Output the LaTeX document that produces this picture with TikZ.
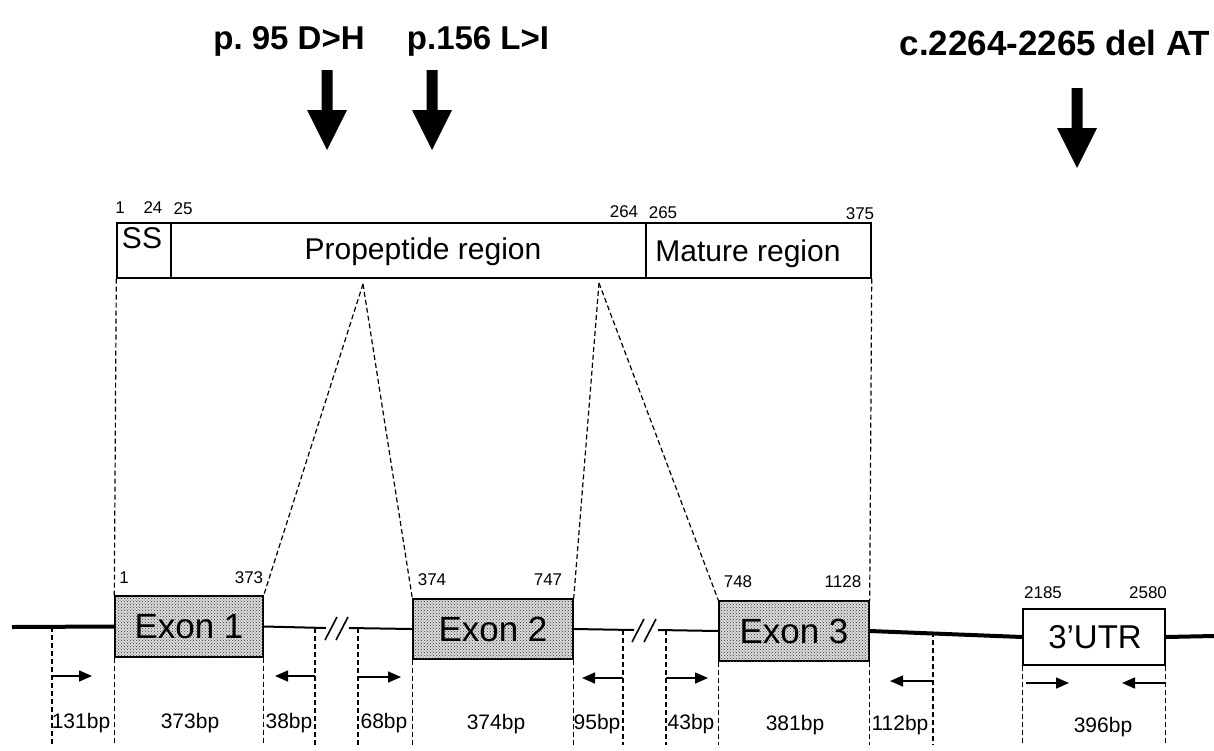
\documentclass[tikz,border=0pt]{standalone}
\usepackage{fontspec}
\setmainfont{Liberation Sans}
\usetikzlibrary{arrows.meta,patterns}
\frenchspacing
\begin{document}
\begin{tikzpicture}[x=1pt,y=-1pt,
  boxline/.style={draw, line width=1.4pt, inner sep=0pt},
  exonbox/.style={boxline, fill=black!14, postaction={pattern=crosshatch dots, pattern color=black!80},
     font=\fontsize{35}{35}\selectfont},
  biglabel/.style={font=\fontsize{30}{30}\selectfont, inner sep=0pt, anchor=base},
  numlabel/.style={font=\fontsize{17}{17}\selectfont, inner sep=0pt},
  bplabel/.style={font=\fontsize{21}{21}\selectfont, inner sep=0pt},
  titlelabel/.style={font=\bfseries\fontsize{33}{33}\selectfont, inner sep=0pt, anchor=base},
  thickline/.style={line width=4pt},
  thinline/.style={line width=2pt},
  dashline/.style={line width=1.2pt, dash pattern=on 5pt off 3pt},
  primer/.style={line width=1.6pt, -{Triangle[length=13pt,width=11pt]}},
  bigarrow/.pic={\fill (-5.5,0) -- (5.5,0) -- (5.5,40) -- (20,40) -- (0,80) -- (-20,40) -- (-5.5,40) -- cycle;}
]
\useasboundingbox (0,0) rectangle (1214,750);

% titles and mutation arrows
\node[titlelabel] (t1) at (289,49) {p. 95 D>H};
\node[titlelabel] (t2) at (478,49) {p.156 L>I};
\node[titlelabel, font=\bfseries\fontsize{35}{35}\selectfont] (t3) at (1055,55) {c.2264-2265 del AT};
\pic at (327,70) {bigarrow};
\pic at (432,70) {bigarrow};
\pic at (1077,88) {bigarrow};

% protein bar
\node[boxline, minimum width=54pt, minimum height=55pt] (ss) at (144,250.5) {};
\node[boxline, minimum width=475pt, minimum height=55pt] (pro) at (408.5,250.5) {};
\node[boxline, minimum width=225pt, minimum height=55pt] (mat) at (758.5,250.5) {};
\node[biglabel] (sst) at (142,248) {SS};
\node[biglabel] (prot) at (423,259) {Propeptide region};
\node[biglabel] (matt) at (748,261) {Mature region};
\node[numlabel] (n1) at (120,208) {1};
\node[numlabel] (n24) at (153,208) {24};
\node[numlabel] (n25) at (183,209) {25};
\node[numlabel] (n264) at (624,212) {264};
\node[numlabel] (n265) at (663,213) {265};
\node[numlabel] (n375) at (860,214) {375};

% gene
\node[exonbox, minimum width=148pt, minimum height=61pt] (ex1) at (189,626.5) {Exon 1};
\node[exonbox, minimum width=160pt, minimum height=60pt] (ex2) at (493,629) {Exon 2};
\node[exonbox, minimum width=150pt, minimum height=60pt] (ex3) at (794,631) {Exon 3};
\node[boxline, minimum width=142pt, minimum height=56pt] (utr) at (1094,637) {};
\node[font=\fontsize{33}{33}\selectfont, inner sep=0pt] (utrt) at (1095,637) {3’UTR};

\node[numlabel] (e1a) at (124,578) {1};
\node[numlabel] (e1b) at (249,578) {373};
\node[numlabel] (e2a) at (432,580) {374};
\node[numlabel] (e2b) at (548,580) {747};
\node[numlabel] (e3a) at (738,582) {748};
\node[numlabel] (e3b) at (843,582) {1128};
\node[numlabel] (ua) at (1043,593) {2185};
\node[numlabel] (ub) at (1148,593) {2580};

\coordinate (lstart) at (12,627);
\coordinate (lend) at (1214,636);
\coordinate (b1a) at (326,628);
\coordinate (b1b) at (349,628);
\coordinate (b2a) at (634,630);
\coordinate (b2b) at (658,630);

\draw[thickline] (lstart) -- (ex1.west);
\draw[thinline] (ex1.east) -- (b1a);
\draw[thinline] (b1b) -- (ex2.west);
\draw[thinline] (ex2.east) -- (b2a);
\draw[thinline] (b2b) -- (ex3.west);
\draw[thickline] (ex3.east) -- (utr.west);
\draw[thickline] (utr.east) -- (lend);
% break marks
\draw[line width=1.6pt] (325,640) -- (337,617) (336,640) -- (348,617);
\draw[line width=1.6pt] (632,642) -- (644,619) (644,642) -- (656,619);

% projection lines
\coordinate (c1) at (363,284);
\coordinate (c2) at (599,283);
\draw[dashline] (ss.south west) -- (ex1.north west);
\draw[dashline] (c1) -- (ex1.north east);
\draw[dashline] (c1) -- (ex2.north west);
\draw[dashline] (c2) -- (ex2.north east);
\draw[dashline] (c2) -- (ex3.north west);
\draw[dashline] (mat.south east) -- (ex3.north east);

% vertical markers below
\coordinate (bot) at (0,745);
\coordinate (d1) at (52,627);
\coordinate (d2) at (315,628);
\coordinate (d3) at (358,628);
\coordinate (d4) at (623,630);
\coordinate (d5) at (666,630);
\coordinate (d6) at (933,632);
\foreach \p in {d1,d2,d3,d4,d5,d6}{\draw[dashline] (\p) -- (\p |- bot);}
\foreach \p in {ex1.south west,ex1.south east,ex2.south west,ex2.south east,ex3.south west,ex3.south east,utr.south west,utr.south east}{\draw[dashline] (\p) -- (\p |- bot);}

% primers
\draw[primer] (52,676) -- (92,676);
\draw[primer] (315,676) -- (275,676);
\draw[primer] (358,677) -- (401,677);
\draw[primer] (623,678) -- (582,678);
\draw[primer] (666,678) -- (708,678);
\draw[primer] (933,681) -- (890,681);
\draw[primer] (1026,683) -- (1069,683);
\draw[primer] (1165,683) -- (1122,683);

% sizes
\node[bplabel] (s1) at (81,723) {131bp};
\node[bplabel] (s2) at (190,723) {373bp};
\node[bplabel] (s3) at (289,723) {38bp};
\node[bplabel] (s4) at (384,723) {68bp};
\node[bplabel] (s5) at (496,724) {374bp};
\node[bplabel] (s6) at (597,724) {95bp};
\node[bplabel] (s7) at (691,724) {43bp};
\node[bplabel] (s8) at (795,725) {381bp};
\node[bplabel] (s9) at (900,725) {112bp};
\node[bplabel] (s10) at (1103,727) {396bp};
\end{tikzpicture}
\end{document}
